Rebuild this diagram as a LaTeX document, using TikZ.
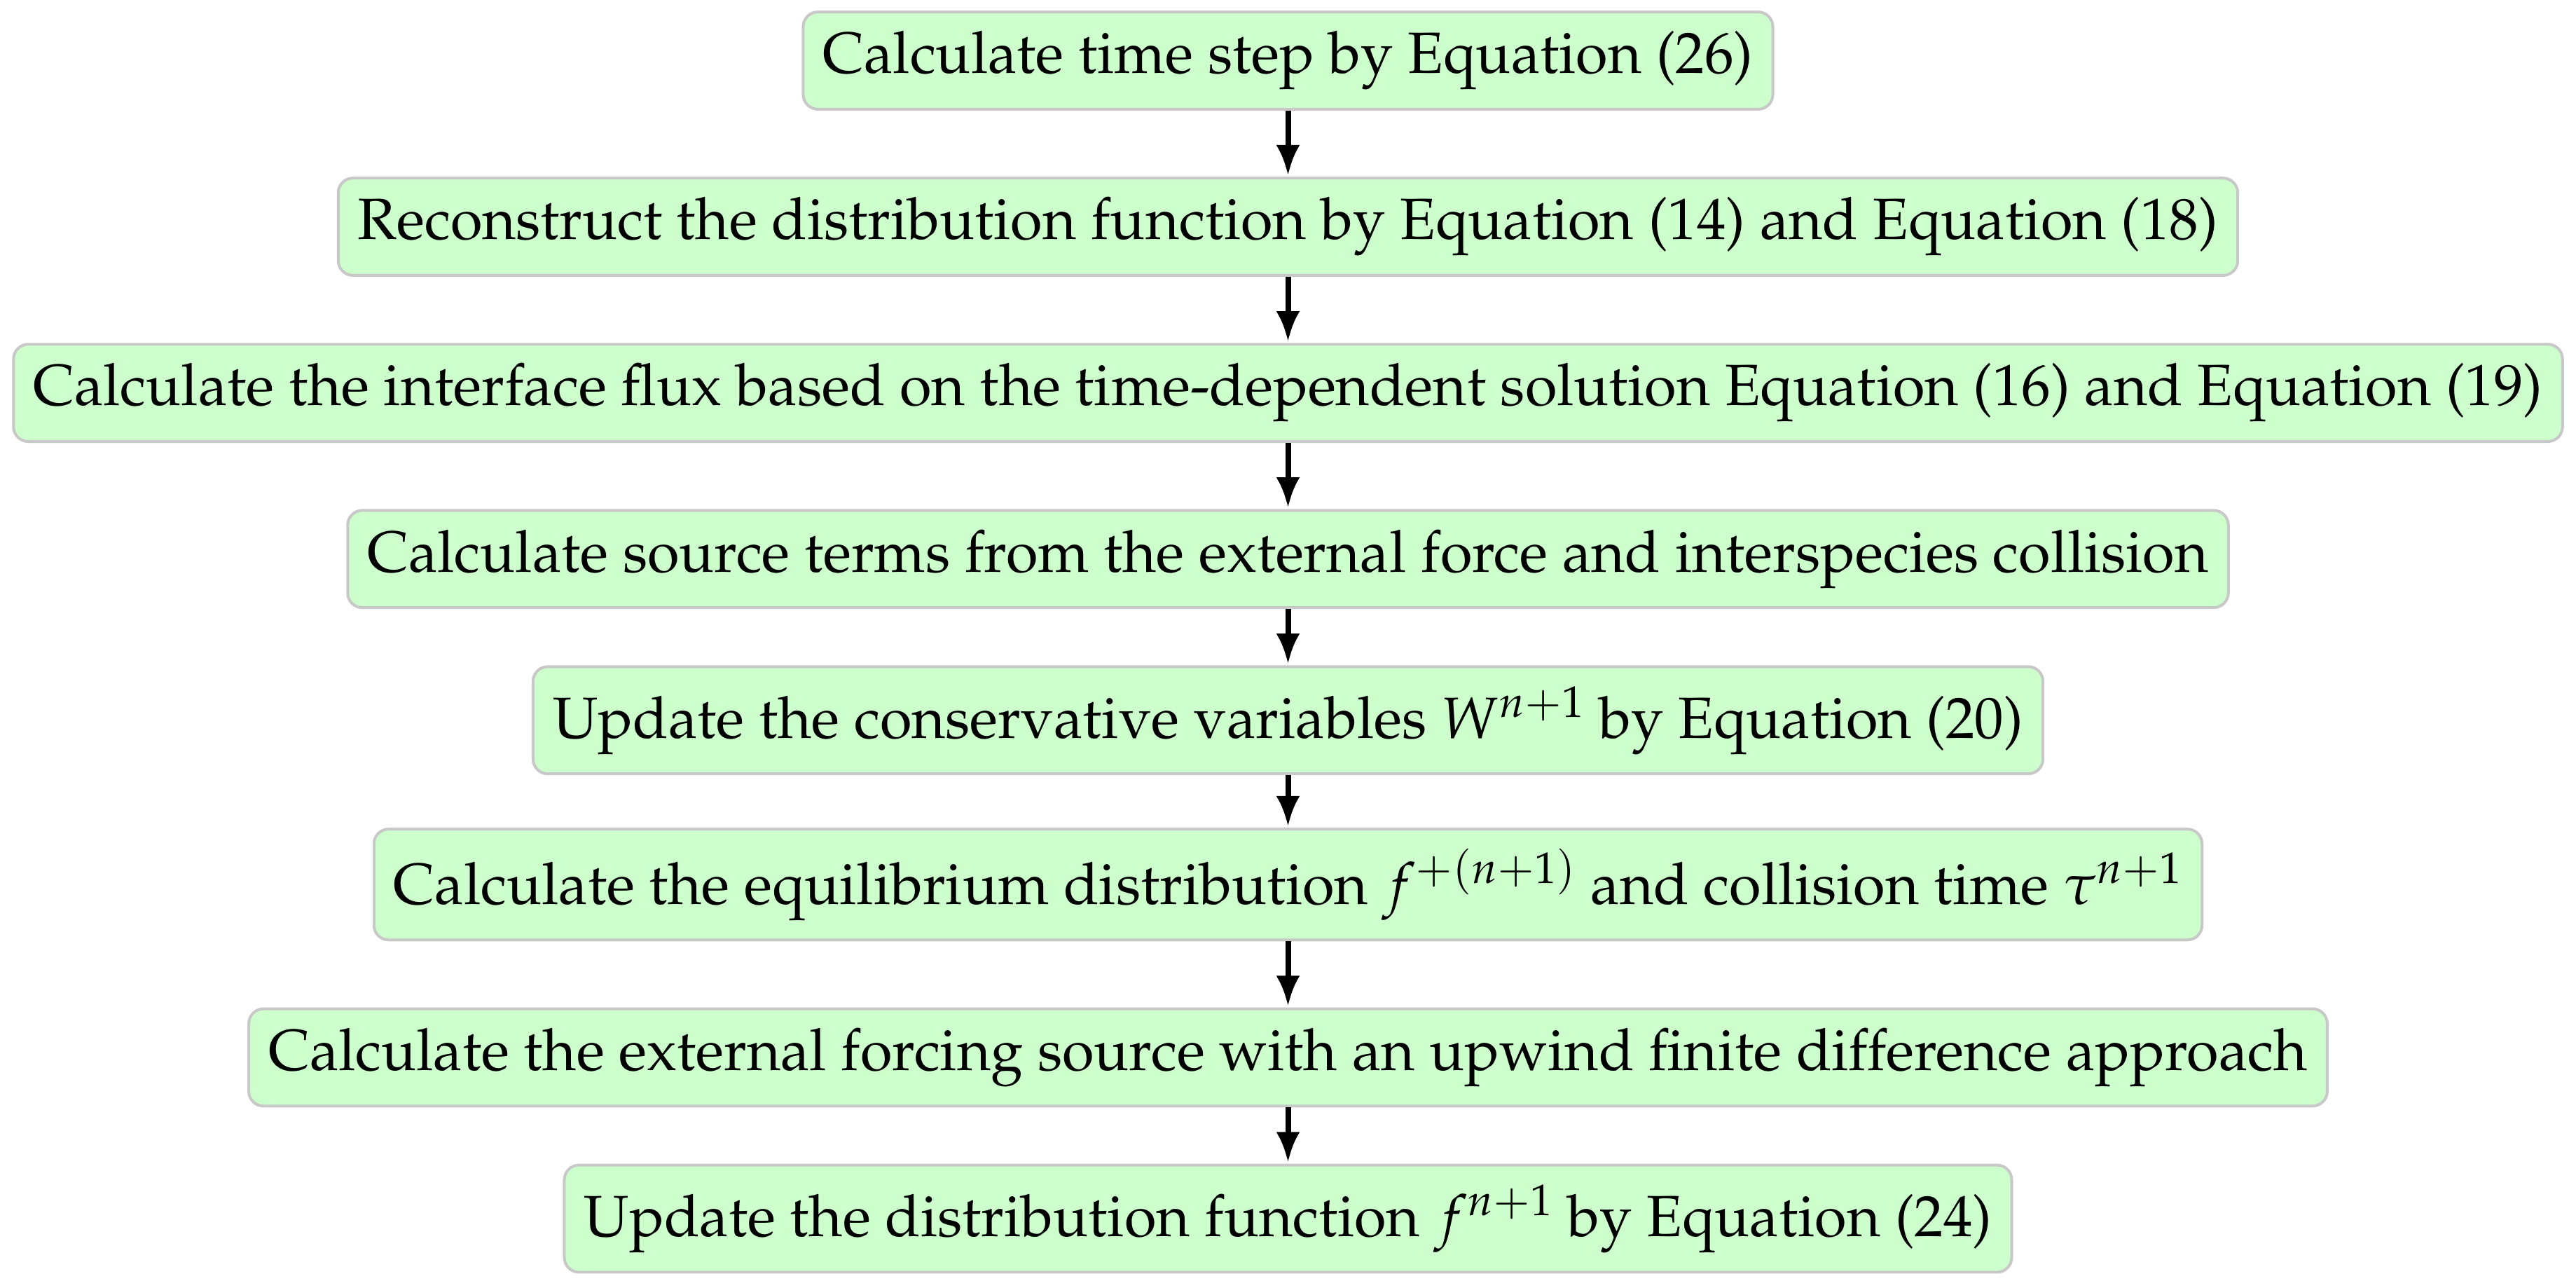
\documentclass[tikz,border=0pt]{standalone}
\usepackage[T1]{fontenc}
\usepackage{mathpazo}
\usetikzlibrary{arrows.meta}
\definecolor{boxfill}{RGB}{204,255,204}
\definecolor{boxline}{RGB}{200,200,200}
\tikzset{
  stepbox/.style={draw=boxline, line width=1.7pt, fill=boxfill, rounded corners=9pt,
    inner xsep=12pt, inner ysep=11.8pt, anchor=base,
    font=\fontsize{35.4}{42}\selectfont},
  arr/.style={line width=3.4pt, -{Latex[length=18.5pt,width=14.5pt]}, shorten >=0.8pt}
}
\begin{document}
\begin{tikzpicture}[x=1pt,y=1pt]
\useasboundingbox (0,0) rectangle (1568,-783.4);
\node[stepbox] (b1) at (784,-44.7) {Calculate time step by Equation (26)};
\node[stepbox] (b2) at (784,-145.8) {Reconstruct the distribution function by Equation (14) and Equation (18)};
\node[stepbox] (b3) at (784,-246.9) {Calculate the interface flux based on the time-dependent solution Equation (16) and Equation (19)};
\node[stepbox] (b4) at (784,-348.0) {Calculate source terms from the external force and interspecies collision};
\node[stepbox] (b5) at (784,-449.1) {Update the conservative variables $W^{n+1}$ by Equation (20)};
\node[stepbox] (b6) at (784,-550.2) {Calculate the equilibrium distribution $f^{+(n+1)}$ and collision time $\tau^{n+1}$};
\node[stepbox] (b7) at (784,-651.3) {Calculate the external forcing source with an upwind finite difference approach};
\node[stepbox] (b8) at (784,-752.4) {Update the distribution function $f^{n+1}$ by Equation (24)};
\draw[arr] (b1.south) -- (b2.north);
\draw[arr] (b2.south) -- (b3.north);
\draw[arr] (b3.south) -- (b4.north);
\draw[arr] (b4.south) -- (b5.north);
\draw[arr] (b5.south) -- (b6.north);
\draw[arr] (b6.south) -- (b7.north);
\draw[arr] (b7.south) -- (b8.north);
\end{tikzpicture}
\end{document}
